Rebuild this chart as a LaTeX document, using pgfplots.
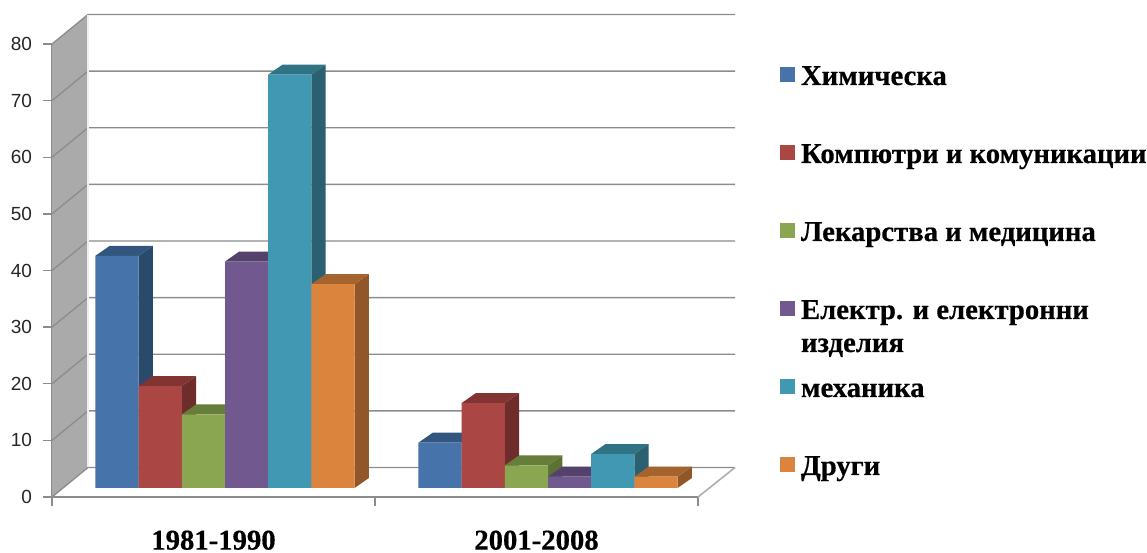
\documentclass[border=0pt]{standalone}
\usepackage{fontspec}
\usepackage{pgfplots}
\pgfplotsset{compat=1.18}
\setmainfont{Liberation Serif}[BoldFeatures={FakeBold=0.5}]
\newfontfamily\ticksans{Liberation Sans}
\definecolor{wallc}{RGB}{170,170,170}
\definecolor{gridc}{RGB}{140,140,140}
\definecolor{bluef}{RGB}{70,115,170}\definecolor{blues}{RGB}{42,74,108}\definecolor{bluet}{RGB}{50,86,126}
\definecolor{redf}{RGB}{170,70,67}\definecolor{reds}{RGB}{110,44,42}\definecolor{redt}{RGB}{130,52,50}
\definecolor{greenf}{RGB}{138,166,80}\definecolor{greens}{RGB}{92,113,52}\definecolor{greent}{RGB}{103,125,58}
\definecolor{purplef}{RGB}{113,88,143}\definecolor{purples}{RGB}{74,57,95}\definecolor{purplet}{RGB}{85,66,108}
\definecolor{tealf}{RGB}{65,152,178}\definecolor{teals}{RGB}{42,96,112}\definecolor{tealt}{RGB}{48,115,133}
\definecolor{orangef}{RGB}{219,132,61}\definecolor{oranges}{RGB}{146,87,40}\definecolor{oranget}{RGB}{165,100,46}
\pgfplotsset{swatch/.style={legend image code/.code={\fill[##1] (0,-2.5bp) rectangle (15bp,12.5bp);}}}
\pgfmathsetmacro\bw{43.2/323}
\pgfmathsetmacro\ddx{14.3/323}
\pgfmathsetmacro\ddy{10/5.6625}
% side and top faces of one bar
\newcommand\faces[5]{% series index, category, value, side colour, top colour
  \pgfmathsetmacro\xl{#2+(#1-3)*\bw}
  \pgfmathsetmacro\xr{\xl+\bw}
  \pgfmathsetmacro\xlb{\xl+\ddx}
  \pgfmathsetmacro\xrb{\xr+\ddx}
  \pgfmathsetmacro\yb{#3+\ddy}
  \addplot[fill=#4,draw=none,forget plot] coordinates {(\xr,0)(\xrb,\ddy)(\xrb,\yb)(\xr,#3)} --cycle;
  \addplot[fill=#5,draw=none,forget plot] coordinates {(\xl,#3)(\xlb,\yb)(\xrb,\yb)(\xr,#3)} --cycle;
}
\newcommand\series[5]{% index, bar shift, value 1981-1990, value 2001-2008, colour stem
  \faces{#1}{0}{#3}{#5s}{#5t}
  \faces{#1}{1}{#4}{#5s}{#5t}
  \addplot[ybar,bar width=43.2bp,bar shift=#2bp,fill=#5f,draw=none,swatch] coordinates {(0,#3)(1,#4)};
}
\begin{document}
\begin{tikzpicture}
\path[use as bounding box] (0,0) rectangle (1147bp,553bp);
% frame: walls, floor, grid, ticks
\begin{axis}[
  at={(52bp,56bp)},anchor=south west,
  scale only axis,width=646bp,height=453bp,
  xmin=-0.5,xmax=1.5,ymin=0,ymax=80,
  clip=false,
  axis x line*=bottom,axis y line*=left,
  axis line style={-,draw=gridc,line width=1.6bp},
  tick align=outside,
  major tick length=8.5bp,
  tick style={draw=gridc,line width=1.4bp},
  xtick={-0.5,0.5,1.5},xticklabels={},
  extra x ticks={0,1},
  extra x tick labels={1981-1990,2001-2008},
  extra x tick style={tick style={draw=none},
    xticklabel style={font=\fontsize{28.7bp}{30bp}\selectfont\bfseries,yshift=-21.5bp,text=black}},
  ytick={0,10,...,80},
  /pgf/number format/assume math mode=true,
  yticklabel style={font=\fontsize{19bp}{22bp}\ticksans,text=black!85,xshift=-8bp},
]
\addplot[fill=wallc,draw=none,forget plot] coordinates {(-0.5,0)(-0.3885,5.21)(-0.3885,85.21)(-0.5,80)} --cycle;
\pgfplotsinvokeforeach{0,10,...,80}{
  \draw[gridc,line width=1.3bp] (axis cs:-0.5,#1) -- (axis cs:-0.3885,{#1+5.21}) -- (axis cs:1.6146,{#1+5.21});
}
\draw[gridc!70,line width=1.6bp] (axis cs:1.5,0) -- (axis cs:1.6146,5.21);
\draw[white!85!gridc,line width=1.2bp] (axis cs:-0.3885,5.21) -- (axis cs:-0.3885,85.21);
\end{axis}
% bars
\begin{axis}[
  at={(63.5bp,65bp)},anchor=south west,
  scale only axis,width=646bp,height=453bp,
  xmin=-0.5,xmax=1.5,ymin=0,ymax=80,
  clip=false,hide axis,
  legend cell align=left,
  legend style={draw=none,fill=none,inner sep=0pt,outer sep=0pt,
    at={(716.5bp,423bp)},anchor=north west,
    row sep=48bp,
    font=\fontsize{28.7bp}{30bp}\selectfont\bfseries,
    nodes={inner sep=0pt,outer sep=0pt,text height=20bp,text depth=10bp,anchor=west},
    /tikz/every odd column/.append style={column sep=6bp}},
]
\series{0}{-108}{41}{8}{blue}
\series{1}{-64.8}{18}{15}{red}
\series{2}{-21.6}{13}{4}{green}
\series{3}{21.6}{40}{2}{purple}
\series{4}{64.8}{73}{6}{teal}
\series{5}{108}{36}{2}{orange}
\legend{Химическа,Компютри и комуникации,Лекарства и медицина,{\makebox[0pt][l]{\smash{\raisebox{-33bp}{изделия}}}Електр. и електронни},механика,Други}
\end{axis}
\end{tikzpicture}
\end{document}
